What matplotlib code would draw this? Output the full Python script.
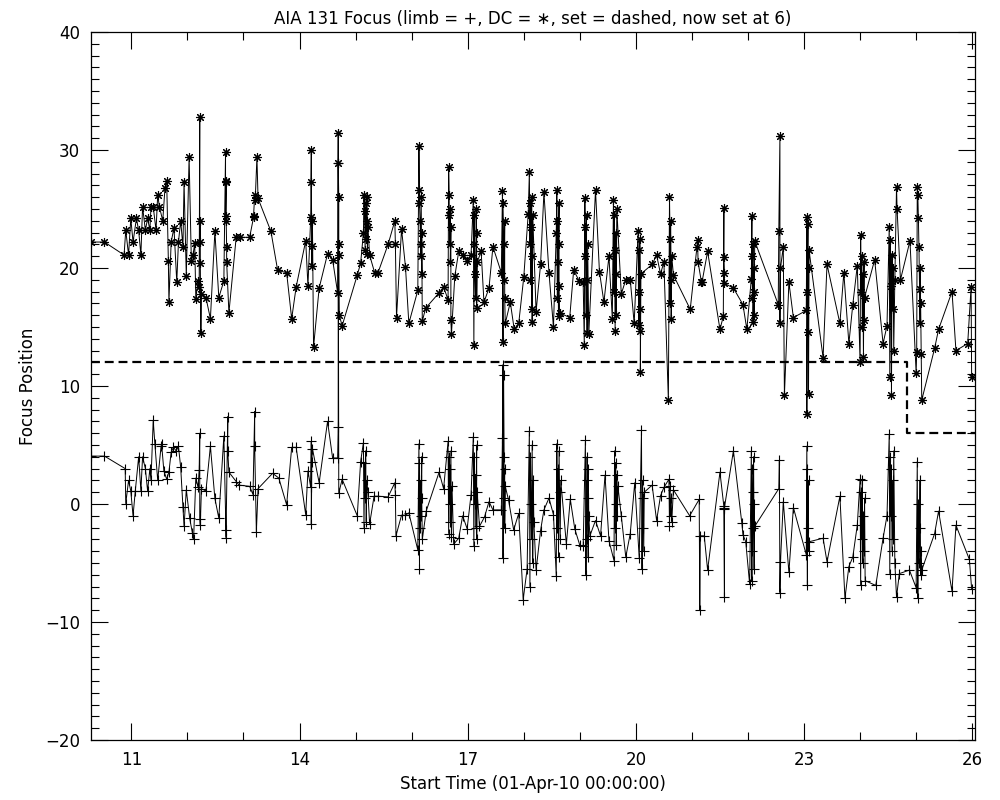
import matplotlib
matplotlib.use("Agg")
import matplotlib.pyplot as plt
from matplotlib.ticker import MultipleLocator

# ---- DC focus (asterisks) : time in days since 01-Apr-10, focus position ----
dc_t = [10.28, 10.52, 10.87, 10.90, 10.95, 10.99, 11.03, 11.09, 11.13, 11.17,
        11.20, 11.25, 11.29, 11.33, 11.35, 11.39, 11.44, 11.47, 11.50, 11.56,
        11.60, 11.63, 11.66, 11.67, 11.71, 11.76, 11.81, 11.84, 11.88, 11.92,
        11.94, 11.98, 12.03, 12.07, 12.10, 12.13, 12.15, 12.19, 12.21, 12.22,
        12.22, 12.23, 12.23, 12.24, 12.25, 12.33, 12.41, 12.49, 12.56, 12.65,
        12.68, 12.68, 12.69, 12.69, 12.69, 12.70, 12.70, 12.74, 12.87, 12.93,
        13.11, 13.18, 13.18, 13.20, 13.21, 13.24, 13.26, 13.49, 13.61, 13.77,
        13.86, 13.94, 14.11, 14.15, 14.20, 14.21, 14.21, 14.22, 14.22, 14.23,
        14.25, 14.35, 14.50, 14.59, 14.68, 14.69, 14.69, 14.70, 14.70, 14.70,
        14.71, 14.76,
        15.03, 15.09, 15.14, 15.15, 15.16, 15.17, 15.18, 15.19, 15.20, 15.21,
        15.21, 15.22, 15.25, 15.34, 15.40, 15.58, 15.70, 15.71, 15.73, 15.82,
        15.89, 15.95, 16.11, 16.13, 16.14, 16.14, 16.15, 16.16, 16.16, 16.17,
        16.18, 16.18, 16.19, 16.25, 16.49, 16.57, 16.65, 16.66, 16.67, 16.67,
        16.68, 16.69, 16.69, 16.70, 16.70, 16.71, 16.77, 16.84, 16.91, 16.99,
        17.06, 17.10, 17.11, 17.12, 17.12, 17.13, 17.14, 17.15, 17.16, 17.16,
        17.17, 17.24, 17.29, 17.38, 17.45, 17.60, 17.62, 17.63, 17.63, 17.64,
        17.65, 17.66, 17.66, 17.67, 17.76, 17.83, 17.91,
        18.00, 18.08, 18.10, 18.11, 18.12, 18.12, 18.13, 18.14, 18.14, 18.15,
        18.15, 18.16, 18.22, 18.30, 18.36, 18.45, 18.53, 18.58, 18.59, 18.60,
        18.60, 18.61, 18.62, 18.62, 18.63, 18.63, 18.64, 18.82, 18.89, 18.99,
        19.06, 19.08, 19.09, 19.10, 19.10, 19.11, 19.12, 19.12, 19.13, 19.14,
        19.16, 19.28, 19.35, 19.43, 19.52, 19.58, 19.60, 19.61, 19.61, 19.62,
        19.63, 19.64, 19.64, 19.65, 19.66, 19.74, 19.82, 19.90, 19.97, 20.04,
        20.05, 20.05, 20.06, 20.07, 20.07, 20.08, 20.08, 20.09, 20.29, 20.37,
        20.44, 20.50, 20.58, 20.60, 20.61, 20.61, 20.62, 20.63, 20.63, 20.64,
        20.67, 20.97,
        21.09, 21.10, 21.11, 21.17, 21.18, 21.28, 21.50, 21.56, 21.57, 21.57,
        21.58, 21.58, 21.74, 21.91, 21.98, 22.06, 22.07, 22.07, 22.08, 22.09,
        22.09, 22.10, 22.11, 22.11, 22.12, 22.54, 22.55, 22.57, 22.57, 22.58,
        22.63, 22.65, 22.73, 22.81, 23.04, 23.05, 23.05, 23.06, 23.07, 23.07,
        23.08, 23.08, 23.09, 23.34, 23.41, 23.64, 23.71, 23.80, 23.87, 23.95,
        24.00, 24.01, 24.02, 24.03, 24.04, 24.05, 24.06, 24.07, 24.07, 24.08,
        24.26, 24.41, 24.48, 24.52, 24.53, 24.54, 24.55, 24.56, 24.57, 24.58,
        24.59, 24.60, 24.62, 24.65, 24.66, 24.72, 24.89, 25.00, 25.01, 25.02,
        25.03, 25.04, 25.05, 25.06, 25.07, 25.07, 25.08, 25.09, 25.10, 25.33,
        25.40, 25.64, 25.71, 25.92, 25.98, 25.99]
dc_v = [22.2, 22.2, 21.1, 23.2, 21.1, 24.2, 22.2, 24.2, 23.2, 21.1,
        25.2, 23.2, 24.2, 23.2, 25.2, 25.2, 23.2, 26.2, 25.2, 24.0,
        26.8, 27.4, 20.6, 17.1, 22.2, 23.4, 18.8, 22.2, 24.0, 21.8,
        27.3, 19.3, 29.4, 20.6, 21.1, 22.1, 17.4, 18.9, 18.4, 32.8,
        22.2, 24.0, 20.4, 14.5, 17.8, 17.5, 15.7, 23.1, 17.5, 18.9,
        29.8, 24.0, 27.4, 27.3, 24.4, 21.8, 20.5, 16.2, 22.6, 22.6,
        22.6, 24.3, 24.4, 26.2, 25.8, 29.4, 25.9, 23.1, 19.8, 19.6,
        15.7, 18.4, 22.3, 18.5, 24.3, 30.0, 27.3, 21.9, 20.2, 24.0,
        13.3, 18.3, 21.2, 20.7, 17.9, 31.4, 28.9, 26.0, 22.0, 21.1,
        16.0, 15.1,
        19.4, 20.4, 23.0, 26.2, 24.8, 21.5, 25.5, 22.5, 26.0, 24.0,
        21.2, 23.5, 21.1, 19.6, 19.6, 22.0, 24.0, 22.0, 15.8, 23.3,
        20.1, 15.3, 18.1, 30.3, 26.6, 25.5, 24.0, 22.0, 21.0, 26.0,
        19.5, 23.0, 15.5, 16.6, 17.9, 18.4, 17.3, 28.6, 26.2, 24.5,
        22.0, 25.0, 20.5, 23.5, 15.6, 14.4, 19.3, 21.4, 21.1, 20.6,
        21.1, 25.8, 13.5, 24.5, 22.0, 19.5, 17.5, 25.0, 23.0, 16.6,
        20.5, 21.4, 17.1, 18.3, 21.8, 19.6, 26.5, 13.7, 25.5, 22.0,
        19.0, 24.0, 17.5, 15.3, 17.1, 14.8, 15.3,
        19.2, 24.6, 28.1, 22.0, 25.5, 19.0, 23.5, 16.5, 26.0, 21.0,
        15.4, 24.5, 16.3, 20.3, 26.4, 19.6, 15.0, 23.0, 26.6, 17.5,
        24.0, 20.5, 15.9, 22.0, 25.5, 18.5, 16.2, 15.8, 19.8, 18.9,
        18.8, 13.5, 25.9, 21.0, 23.5, 16.0, 24.5, 19.0, 14.5, 22.0,
        14.4, 26.6, 19.7, 17.1, 21.0, 15.7, 25.8, 18.0, 24.5, 21.5,
        14.7, 23.0, 19.5, 16.0, 25.0, 17.8, 19.0, 19.0, 15.3, 23.1,
        15.2, 21.5, 18.0, 14.7, 22.5, 16.5, 11.2, 19.5, 20.3, 21.1,
        19.5, 20.5, 8.8, 26.0, 22.5, 17.0, 24.0, 19.0, 15.7, 21.0,
        19.4, 16.5,
        21.8, 22.4, 20.5, 18.8, 18.8, 21.4, 14.8, 15.9, 25.1, 20.9,
        19.6, 18.7, 18.3, 16.9, 14.8, 19.1, 24.4, 21.0, 17.5, 22.0,
        15.4, 20.0, 18.0, 16.0, 22.3, 16.9, 23.1, 31.2, 15.3, 20.0,
        21.8, 9.2, 18.8, 15.8, 16.4, 24.3, 7.6, 18.0, 23.7, 14.6,
        20.0, 9.3, 21.5, 12.4, 20.3, 15.3, 19.6, 13.6, 16.9, 20.2,
        12.0, 22.8, 18.0, 21.0, 15.0, 19.5, 12.5, 20.5, 15.6, 17.5,
        20.7, 13.6, 15.1, 23.5, 10.8, 22.4, 18.5, 9.2, 21.1, 16.5,
        20.0, 13.0, 19.0, 26.9, 25.0, 19.0, 22.3, 11.1, 12.9, 26.9,
        26.2, 24.2, 21.8, 18.2, 15.3, 20.0, 17.0, 12.7, 8.8, 13.2,
        14.8, 18.0, 13.0, 13.6, 18.4, 10.8]

# ---- limb focus (plus signs) ----
limb_t = [10.28, 10.52, 10.89, 10.90, 10.95, 10.99, 11.03, 11.07, 11.13, 11.17,
          11.20, 11.25, 11.29, 11.33, 11.35, 11.39, 11.42, 11.47, 11.53, 11.54,
          11.58, 11.63, 11.67, 11.71, 11.75, 11.80, 11.84, 11.88, 11.92, 11.94,
          11.98, 12.04, 12.09, 12.11, 12.15, 12.19, 12.21, 12.22, 12.22, 12.23,
          12.25, 12.33, 12.41, 12.49, 12.56, 12.65, 12.69, 12.69, 12.72, 12.72,
          12.74, 12.87, 12.92, 13.11, 13.17, 13.20, 13.20, 13.23, 13.26, 13.52,
          13.63, 13.77, 13.86, 13.94, 14.11, 14.15, 14.20, 14.21, 14.21, 14.22,
          14.23, 14.35, 14.50, 14.59, 14.68, 14.69, 14.69, 14.70, 14.76,
          15.03, 15.09, 15.14, 15.15, 15.16, 15.17, 15.18, 15.19, 15.20, 15.22,
          15.25, 15.33, 15.40, 15.58, 15.70, 15.71, 15.72, 15.82, 15.89, 15.95,
          16.11, 16.13, 16.14, 16.14, 16.15, 16.16, 16.17, 16.18, 16.18, 16.19,
          16.26, 16.49, 16.57, 16.65, 16.66, 16.67, 16.68, 16.69, 16.69, 16.70,
          16.71, 16.72, 16.75, 16.84, 16.91, 16.99, 17.06, 17.10, 17.11, 17.12,
          17.13, 17.14, 17.15, 17.16, 17.16, 17.17, 17.21, 17.30, 17.38, 17.45,
          17.60, 17.62, 17.63, 17.63, 17.64, 17.65, 17.65, 17.66, 17.66, 17.67,
          17.73, 17.82, 17.91, 17.99,
          18.06, 18.10, 18.11, 18.12, 18.13, 18.14, 18.15, 18.16, 18.17, 18.18,
          18.22, 18.30, 18.36, 18.45, 18.53, 18.58, 18.59, 18.60, 18.61, 18.62,
          18.63, 18.64, 18.65, 18.66, 18.76, 18.83, 18.91, 19.00, 19.06, 19.10,
          19.11, 19.12, 19.12, 19.13, 19.14, 19.15, 19.15, 19.16, 19.18, 19.28,
          19.37, 19.45, 19.52, 19.61, 19.62, 19.63, 19.64, 19.65, 19.65, 19.66,
          19.67, 19.68, 19.74, 19.82, 19.90, 19.98, 20.06, 20.10, 20.11, 20.12,
          20.13, 20.13, 20.14, 20.15, 20.29, 20.37, 20.44, 20.50, 20.59, 20.60,
          20.61, 20.62, 20.63, 20.64, 20.67, 20.96,
          21.13, 21.14, 21.15, 21.22, 21.28, 21.50, 21.57, 21.57, 21.58, 21.58,
          21.74, 21.89, 21.91, 21.96, 22.03, 22.06, 22.07, 22.07, 22.08, 22.09,
          22.09, 22.10, 22.11, 22.11, 22.12, 22.55, 22.56, 22.57, 22.58, 22.63,
          22.73, 22.81, 23.04, 23.05, 23.06, 23.06, 23.07, 23.08, 23.08, 23.09,
          23.34, 23.41, 23.64, 23.73, 23.80, 23.87, 23.95, 24.00, 24.01, 24.02,
          24.03, 24.04, 24.05, 24.06, 24.07, 24.08, 24.09, 24.28, 24.41, 24.48,
          24.52, 24.53, 24.54, 24.55, 24.56, 24.57, 24.58, 24.59, 24.60, 24.62,
          24.65, 24.70, 24.88, 25.00, 25.02, 25.03, 25.04, 25.05, 25.06, 25.07,
          25.08, 25.09, 25.10, 25.33, 25.40, 25.64, 25.71, 25.95, 25.99]
limb_v = [4.06, 4.06, 3.0, 0.04, 2.0, 1.1, -1.0, 1.1, 4.0, 1.1,
          4.0, 3.0, 1.1, 3.0, 2.0, 7.1, 5.05, 2.0, 4.9, 5.05,
          2.8, 2.1, 2.7, 4.4, 4.8, 4.5, 4.9, 3.1, -0.27, -1.9,
          1.2, -1.2, -2.45, -3.0, 2.2, 1.4, 2.9, 6.0, -1.3, -1.8,
          1.3, 1.1, 4.9, 0.47, -1.2, 5.76, -2.85, -2.2, 7.4, 4.5,
          2.7, 1.9, 1.6, 1.5, 0.8, 7.83, 4.9, -2.4, 1.3, 2.6,
          2.2, -0.07, 4.8, 4.8, -0.9, 2.8, 1.4, 5.3, -1.7, 3.6,
          4.7, 1.8, 7.0, 3.9, 3.9, 6.5, 28.9, 0.9, 2.1,
          -1.0, 3.6, 5.2, -2.0, 3.5, 0.5, 4.5, -1.5, 2.0, 1.0,
          -1.7, 0.66, 0.66, 0.6, 1.8, 0.8, -2.7, -0.95, -0.95, -0.75,
          -3.9, 5.1, -5.5, 3.5, -2.0, 2.0, -1.0, 4.0, 0.5, -3.0,
          -0.6, 2.7, 1.3, 5.3, -2.5, 4.0, 0.0, 3.0, -1.5, 4.5,
          -2.8, 1.5, -3.4, -2.9, -1.0, -2.1, 0.8, 5.7, -3.6, 4.0,
          0.0, 2.5, -2.0, 5.0, -3.0, 1.0, -1.9, -1.1, 0.2, -0.5,
          -0.5, 5.6, 11.8, -4.6, 10.9, 4.0, 0.5, 3.0, -2.0, 1.5,
          0.3, -2.2, -0.8, -8.1,
          -5.5, 6.2, -7.0, 4.0, 0.0, -3.0, 5.0, -5.0, 2.0, -1.5,
          -5.6, -2.25, -0.5, 0.5, -0.9, -6.1, 5.1, -2.0, 3.0, -4.5,
          4.5, 1.0, -3.0, 2.0, -3.4, 0.4, -2.1, -3.5, -3.6, 5.4,
          -6.0, 2.0, -3.0, 4.0, 0.5, -4.5, 3.0, -1.0, -2.7, -1.4,
          -2.7, 2.45, -3.1, -4.8, 4.5, -2.0, 3.5, 0.0, -3.5, 2.5,
          -1.0, 1.5, -1.0, -4.5, -2.5, 1.8, -4.6, 6.3, -5.5, 2.0,
          -2.0, 0.5, -4.0, 1.0, 1.6, -1.4, 0.7, 1.4, 2.1, -1.9,
          1.5, -1.0, 0.5, -1.5, 1.2, -1.0,
          0.4, -8.95, -2.7, -2.7, -5.6, 2.7, -0.2, -0.4, -7.9, -0.3,
          4.5, -1.6, -2.6, -3.2, -6.8, 4.5, -6.5, 3.0, -4.0, 1.0,
          -2.0, 4.0, -5.5, 0.0, -1.9, 1.3, 3.7, -7.5, -4.9, 0.2,
          -5.8, -0.3, -4.3, 4.9, -6.9, 3.0, -2.0, 2.0, -4.0, -3.2,
          -2.9, -4.9, 0.66, -8.0, -5.3, -4.5, -1.8, 2.1, -6.9, 1.0,
          -3.0, 2.0, -5.0, -1.0, -4.0, 0.5, -6.5, -6.9, -2.9, -1.0,
          5.9, -5.9, 4.0, -1.0, 3.0, -4.0, 2.0, -3.0, 4.5, -5.0,
          -7.9, -5.9, -5.6, -7.1, 3.6, -8.0, 0.0, -5.0, -2.0, 2.0,
          -6.0, -4.0, -5.6, -2.5, -0.6, -7.4, -1.8, -4.7, -7.2]

# ---- focus set value (dashed) ----
set_t = [10.28, 24.84, 26.05]
set_v = [12, 6, 6]

xticks = [11, 14, 17, 20, 23, 26]
xtick_labels = ["11", "14", "17", "20", "23", "26"]
yticks = [-20, -10, 0, 10, 20, 30, 40]

plt.rcParams['font.family'] = ['DejaVu Sans']

fig = plt.figure(figsize=(10, 8), dpi=100)
ax = fig.add_axes([0.091, 0.075, 0.884, 0.885])

ax.plot(dc_t, dc_v, color='black', linewidth=0.7,
        marker=(8, 2, 0), markersize=6.5, markeredgewidth=0.8)
ax.plot(limb_t, limb_v, color='black', linewidth=0.7,
        marker='+', markersize=6.5, markeredgewidth=0.8)
ax.plot(set_t, set_v, color='black', linewidth=1.6, drawstyle='steps-post',
        dashes=(4, 2.2))

ax.set_xlim(10.28, 26.05)
ax.set_ylim(-20, 40)
ax.set_xticks(xticks)
ax.set_xticklabels(xtick_labels)
ax.set_yticks(yticks)
ax.xaxis.set_minor_locator(MultipleLocator(1))
ax.yaxis.set_minor_locator(MultipleLocator(1))
ax.tick_params(which='both', direction='in', top=True, right=True,
               labelsize=12, width=0.8, pad=8)
ax.tick_params(which='major', length=12)
ax.tick_params(which='minor', length=6)
for s in ax.spines.values():
    s.set_linewidth(0.9)

ax.set_title("AIA 131 Focus (limb = +, DC = \u2217, set = dashed, now set at 6)",
             fontsize=12, pad=6)
ax.set_xlabel("Start Time (01-Apr-10 00:00:00)", fontsize=12, labelpad=4)
ax.set_ylabel("Focus Position", fontsize=12, labelpad=6)

fig.savefig("out.png", dpi=100, facecolor='white')
